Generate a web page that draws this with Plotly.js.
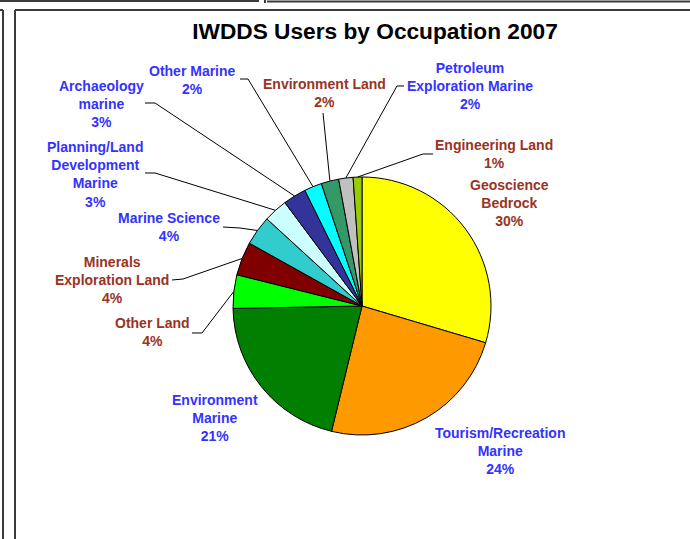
<!DOCTYPE html>
<html><head><meta charset="utf-8">
<script src="https://cdn.plot.ly/plotly-3.0.1.min.js"></script>
<style>html,body{margin:0;padding:0;background:#fff;overflow:hidden}#chart{width:690px;height:539px}</style>
</head><body><div id="chart"></div>
<script>
// ---- data ----
const categories = ['Geoscience Bedrock','Tourism/Recreation Marine','Environment Marine','Other Land',
  'Minerals Exploration Land','Marine Science','Planning/Land Development Marine','Archaeology marine',
  'Other Marine','Environment Land','Petroleum Exploration Marine','Engineering Land'];
const values = [29.6,24.2,20.9,4.2,4.2,3.7,3.0,2.9,2.2,2.2,1.8,1.1];
const labelLines = [['Geoscience','Bedrock'],['Tourism/Recreation','Marine'],['Environment','Marine'],['Other Land'],
  ['Minerals','Exploration Land'],['Marine Science'],['Planning/Land','Development','Marine'],['Archaeology','marine'],
  ['Other Marine'],['Environment Land'],['Petroleum','Exploration Marine'],['Engineering Land']];
const chartTitle = 'IWDDS Users by Occupation 2007';

// ---- styles / layout constants ----
const sliceColors = ['#ffff00','#ff9900','#007f00','#00ff00','#800000','#33cccc','#ccffff','#333399','#00ffff','#339966','#c0c0c0','#99cc00'];
const BLUE='#3333ff', RED='#993322';
const labelColors = [RED,BLUE,BLUE,RED,RED,BLUE,BLUE,BLUE,BLUE,RED,BLUE,RED];
const labelPos = [[509,203],[500,451],[215,418],[152,332],[112,280],[169,227],[95,174],[101,104],[193,80],[324,93],[470,86],[494,154]];
const leaderElbows = [null,null,null,[[192,333],[202,333]],[[172,280],[183,279]],[[223,227],[240,228]],
  [[145,173],[155,173]],[[145,103],[155,103]],[[240,79],[248,79]],[[323,113]],[[404,86],[397,86]],[[433,154],[423,154]]];

const W=690,H=539, CX=362, CY=306, R=129;
const px=x=>x/W, py=y=>1-y/H;
const total = values.reduce((a,b)=>a+b,0);
let cum=0; const mids=[];
values.forEach(v=>{mids.push((cum+v/2)/total*2*Math.PI); cum+=v;});
const edge=i=>[CX+R*Math.sin(mids[i]), CY-R*Math.cos(mids[i])];

const font={family:'Liberation Sans, Arial, sans-serif', size:14, weight:700};
const annotations = categories.map((c,i)=>({
  text: labelLines[i].join('<br>')+'<br>'+Math.round(values[i]/total*100)+'%',
  x:px(labelPos[i][0]), y:py(labelPos[i][1]), xref:'paper', yref:'paper',
  xanchor:'center', yanchor:'middle', showarrow:false, align:'center',
  font:Object.assign({},font,{color:labelColors[i]})
}));

const shapes=[];
leaderElbows.forEach((pts,i)=>{
  if(!pts) return;
  const all=pts.concat([edge(i)]);
  const path=all.map((p,k)=>(k?'L':'M')+px(p[0]).toFixed(5)+','+py(p[1]).toFixed(5)).join(' ');
  shapes.push({type:'path', path, xref:'paper', yref:'paper', line:{color:'#000', width:1}});
});
// frame lines
const frame=[[[0,1],[259,1]],[[267,1.5],[690,1.5]],[[265,0],[265,3]],[[0,10],[3,10]],[[3,10],[3,539]],[[15,10],[690,10]],[[15,10],[15,539]]];
frame.forEach(s=>shapes.push({type:'line', xref:'paper', yref:'paper',
  x0:px(s[0][0]), y0:py(s[0][1]), x1:px(s[1][0]), y1:py(s[1][1]), line:{color:'#3a3a3a', width:2}}));

const trace={type:'pie', labels:categories, values:values, sort:false, direction:'clockwise', rotation:0,
  marker:{colors:sliceColors, line:{color:'#000', width:1}}, textinfo:'none', textposition:'none',
  hoverinfo:'label+percent', showlegend:false,
  domain:{x:[px(CX-R), px(CX+R)], y:[py(CY+R), py(CY-R)]}};

const layout={width:W, height:H, margin:{l:0,r:0,t:0,b:0}, paper_bgcolor:'#fff', plot_bgcolor:'#fff',
  title:{text:chartTitle, x:375/W, y:1-31/H, xref:'container', yref:'container', xanchor:'center', yanchor:'middle',
    font:{family:'Liberation Sans, Arial, sans-serif', size:22.7, weight:700, color:'#000'}},
  annotations, shapes, showlegend:false};
Plotly.newPlot('chart',[trace],layout,{displayModeBar:false, staticPlot:true});
</script></body></html>
